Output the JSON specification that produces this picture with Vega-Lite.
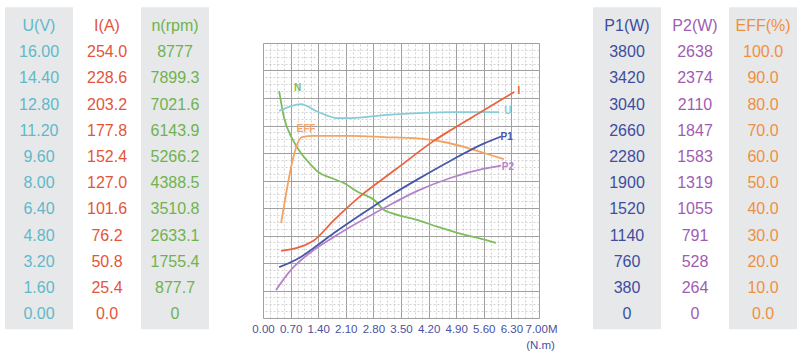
{
  "$schema": "https://vega.github.io/schema/vega-lite/v6.json",
  "padding": {"left": 5, "top": 7, "right": 0, "bottom": 0},
  "background": "white",
  "bounds": "flush",
  "spacing": 54,
  "config": {"view": {"stroke": null}, "font": "Liberation Sans"},
  "resolve": {"scale": {"x": "independent", "y": "independent", "color": "independent"}},
  "datasets": {
    "curves": [
      {"series": "N", "x": 0.41, "pct": 82.5}, {"series": "N", "x": 0.53, "pct": 73.1}, {"series": "N", "x": 0.76, "pct": 64.7},
      {"series": "N", "x": 0.96, "pct": 60.0}, {"series": "N", "x": 1.17, "pct": 56.4}, {"series": "N", "x": 1.40, "pct": 53.1},
      {"series": "N", "x": 1.73, "pct": 50.9}, {"series": "N", "x": 2.05, "pct": 49.1}, {"series": "N", "x": 2.41, "pct": 45.8},
      {"series": "N", "x": 2.82, "pct": 42.9}, {"series": "N", "x": 3.07, "pct": 39.3}, {"series": "N", "x": 3.25, "pct": 38.2},
      {"series": "N", "x": 3.93, "pct": 35.6}, {"series": "N", "x": 4.44, "pct": 33.1}, {"series": "N", "x": 4.95, "pct": 30.9},
      {"series": "N", "x": 5.45, "pct": 29.1}, {"series": "N", "x": 5.91, "pct": 27.3},
      {"series": "U", "x": 0.41, "pct": 75.3}, {"series": "U", "x": 0.96, "pct": 77.8}, {"series": "U", "x": 1.40, "pct": 74.9},
      {"series": "U", "x": 1.90, "pct": 72.7}, {"series": "U", "x": 2.23, "pct": 72.7}, {"series": "U", "x": 3.07, "pct": 73.8},
      {"series": "U", "x": 3.93, "pct": 74.5}, {"series": "U", "x": 4.77, "pct": 74.9}, {"series": "U", "x": 5.99, "pct": 74.9},
      {"series": "EFF", "x": 0.46, "pct": 34.5}, {"series": "EFF", "x": 0.99, "pct": 65.8}, {"series": "EFF", "x": 1.27, "pct": 66.2},
      {"series": "EFF", "x": 2.23, "pct": 66.2}, {"series": "EFF", "x": 3.07, "pct": 65.8}, {"series": "EFF", "x": 3.93, "pct": 65.3},
      {"series": "EFF", "x": 4.59, "pct": 64.0}, {"series": "EFF", "x": 5.20, "pct": 61.8}, {"series": "EFF", "x": 5.61, "pct": 60.0},
      {"series": "EFF", "x": 6.11, "pct": 57.8},
      {"series": "I", "x": 0.46, "pct": 24.4}, {"series": "I", "x": 1.27, "pct": 28.0}, {"series": "I", "x": 1.80, "pct": 35.6},
      {"series": "I", "x": 2.41, "pct": 43.6}, {"series": "I", "x": 3.07, "pct": 50.9}, {"series": "I", "x": 3.50, "pct": 55.5},
      {"series": "I", "x": 4.34, "pct": 64.5}, {"series": "I", "x": 4.77, "pct": 68.4}, {"series": "I", "x": 5.61, "pct": 75.6},
      {"series": "I", "x": 6.37, "pct": 82.2},
      {"series": "P1", "x": 0.41, "pct": 18.5}, {"series": "P1", "x": 0.96, "pct": 22.2}, {"series": "P1", "x": 1.27, "pct": 25.3},
      {"series": "P1", "x": 1.80, "pct": 30.9}, {"series": "P1", "x": 2.66, "pct": 39.3}, {"series": "P1", "x": 3.25, "pct": 44.7},
      {"series": "P1", "x": 3.93, "pct": 50.5}, {"series": "P1", "x": 4.77, "pct": 57.3}, {"series": "P1", "x": 5.61, "pct": 63.5},
      {"series": "P1", "x": 6.04, "pct": 66.0},
      {"series": "P2", "x": 0.33, "pct": 10.2}, {"series": "P2", "x": 0.71, "pct": 17.5}, {"series": "P2", "x": 1.22, "pct": 24.0},
      {"series": "P2", "x": 1.80, "pct": 29.5}, {"series": "P2", "x": 2.92, "pct": 38.8}, {"series": "P2", "x": 3.32, "pct": 41.9},
      {"series": "P2", "x": 3.93, "pct": 46.3}, {"series": "P2", "x": 4.77, "pct": 51.0}, {"series": "P2", "x": 5.61, "pct": 54.3},
      {"series": "P2", "x": 6.04, "pct": 55.4}
    ],
    "labels": [
      {"series": "N", "x": 0.88, "pct": 83.6, "text": "N"},
      {"series": "EFF", "x": 1.09, "pct": 68.7, "text": "EFF"},
      {"series": "I", "x": 6.49, "pct": 82.5, "text": "I"},
      {"series": "U", "x": 6.21, "pct": 75.3, "text": "U"},
      {"series": "P1", "x": 6.18, "pct": 65.8, "text": "P1"},
      {"series": "P2", "x": 6.21, "pct": 54.9, "text": "P2"}
    ],
    "tableL": [
      {"col": "U(V)", "row": 0, "text": "U(V)"}, {"col": "U(V)", "row": 1, "text": "16.00"}, {"col": "U(V)", "row": 2, "text": "14.40"},
      {"col": "U(V)", "row": 3, "text": "12.80"}, {"col": "U(V)", "row": 4, "text": "11.20"}, {"col": "U(V)", "row": 5, "text": "9.60"},
      {"col": "U(V)", "row": 6, "text": "8.00"}, {"col": "U(V)", "row": 7, "text": "6.40"}, {"col": "U(V)", "row": 8, "text": "4.80"},
      {"col": "U(V)", "row": 9, "text": "3.20"}, {"col": "U(V)", "row": 10, "text": "1.60"}, {"col": "U(V)", "row": 11, "text": "0.00"},
      {"col": "I(A)", "row": 0, "text": "I(A)"}, {"col": "I(A)", "row": 1, "text": "254.0"}, {"col": "I(A)", "row": 2, "text": "228.6"},
      {"col": "I(A)", "row": 3, "text": "203.2"}, {"col": "I(A)", "row": 4, "text": "177.8"}, {"col": "I(A)", "row": 5, "text": "152.4"},
      {"col": "I(A)", "row": 6, "text": "127.0"}, {"col": "I(A)", "row": 7, "text": "101.6"}, {"col": "I(A)", "row": 8, "text": "76.2"},
      {"col": "I(A)", "row": 9, "text": "50.8"}, {"col": "I(A)", "row": 10, "text": "25.4"}, {"col": "I(A)", "row": 11, "text": "0.0"},
      {"col": "n(rpm)", "row": 0, "text": "n(rpm)"}, {"col": "n(rpm)", "row": 1, "text": "8777"}, {"col": "n(rpm)", "row": 2, "text": "7899.3"},
      {"col": "n(rpm)", "row": 3, "text": "7021.6"}, {"col": "n(rpm)", "row": 4, "text": "6143.9"}, {"col": "n(rpm)", "row": 5, "text": "5266.2"},
      {"col": "n(rpm)", "row": 6, "text": "4388.5"}, {"col": "n(rpm)", "row": 7, "text": "3510.8"}, {"col": "n(rpm)", "row": 8, "text": "2633.1"},
      {"col": "n(rpm)", "row": 9, "text": "1755.4"}, {"col": "n(rpm)", "row": 10, "text": "877.7"}, {"col": "n(rpm)", "row": 11, "text": "0"}
    ],
    "tableR": [
      {"col": "P1(W)", "row": 0, "text": "P1(W)"}, {"col": "P1(W)", "row": 1, "text": "3800"}, {"col": "P1(W)", "row": 2, "text": "3420"},
      {"col": "P1(W)", "row": 3, "text": "3040"}, {"col": "P1(W)", "row": 4, "text": "2660"}, {"col": "P1(W)", "row": 5, "text": "2280"},
      {"col": "P1(W)", "row": 6, "text": "1900"}, {"col": "P1(W)", "row": 7, "text": "1520"}, {"col": "P1(W)", "row": 8, "text": "1140"},
      {"col": "P1(W)", "row": 9, "text": "760"}, {"col": "P1(W)", "row": 10, "text": "380"}, {"col": "P1(W)", "row": 11, "text": "0"},
      {"col": "P2(W)", "row": 0, "text": "P2(W)"}, {"col": "P2(W)", "row": 1, "text": "2638"}, {"col": "P2(W)", "row": 2, "text": "2374"},
      {"col": "P2(W)", "row": 3, "text": "2110"}, {"col": "P2(W)", "row": 4, "text": "1847"}, {"col": "P2(W)", "row": 5, "text": "1583"},
      {"col": "P2(W)", "row": 6, "text": "1319"}, {"col": "P2(W)", "row": 7, "text": "1055"}, {"col": "P2(W)", "row": 8, "text": "791"},
      {"col": "P2(W)", "row": 9, "text": "528"}, {"col": "P2(W)", "row": 10, "text": "264"}, {"col": "P2(W)", "row": 11, "text": "0"},
      {"col": "EFF(%)", "row": 0, "text": "EFF(%)"}, {"col": "EFF(%)", "row": 1, "text": "100.0"}, {"col": "EFF(%)", "row": 2, "text": "90.0"},
      {"col": "EFF(%)", "row": 3, "text": "80.0"}, {"col": "EFF(%)", "row": 4, "text": "70.0"}, {"col": "EFF(%)", "row": 5, "text": "60.0"},
      {"col": "EFF(%)", "row": 6, "text": "50.0"}, {"col": "EFF(%)", "row": 7, "text": "40.0"}, {"col": "EFF(%)", "row": 8, "text": "30.0"},
      {"col": "EFF(%)", "row": 9, "text": "20.0"}, {"col": "EFF(%)", "row": 10, "text": "10.0"}, {"col": "EFF(%)", "row": 11, "text": "0.0"}
    ]
  },
  "hconcat": [
    {
      "width": 204,
      "height": 275,
      "data": {"name": "tableL"},
      "layer": [
        {
          "transform": [{"filter": "datum.row == 0 && (datum.col == 'U(V)' || datum.col == 'n(rpm)')"}],
          "mark": {"type": "rect", "color": "#e7e8ea"},
          "encoding": {
            "x": {"field": "col", "type": "nominal", "scale": {"domain": ["U(V)", "I(A)", "n(rpm)"], "paddingInner": 0, "paddingOuter": 0}, "axis": null},
            "y": {"datum": -0.72, "type": "quantitative", "scale": {"domain": [0.649, 11.145], "reverse": true, "nice": false, "zero": false}, "axis": null},
            "y2": {"datum": 11.57}
          }
        },
        {
          "mark": {"type": "text", "fontSize": 16, "baseline": "middle", "font": "Liberation Sans"},
          "encoding": {
            "x": {"field": "col", "type": "nominal", "axis": null},
            "y": {"field": "row", "type": "quantitative", "axis": null},
            "text": {"field": "text"},
            "color": {"field": "col", "type": "nominal", "scale": {"domain": ["U(V)", "I(A)", "n(rpm)"], "range": ["#5fb9c9", "#e3553b", "#6fb34f"]}, "legend": null}
          }
        }
      ]
    },
    {
      "width": 276,
      "height": 275,
      "layer": [
        {
          "data": {"name": "curves"},
          "mark": {"type": "line", "strokeWidth": 1.8, "interpolate": "monotone"},
          "encoding": {
            "x": {
              "field": "x", "type": "quantitative",
              "scale": {"domain": [0, 7], "nice": false, "zero": false},
              "axis": {
                "orient": "top", "title": null, "labels": false, "ticks": false, "domain": false,
                "grid": true, "gridColor": "#c6c6c6", "gridDash": [2, 2], "gridWidth": 0.8,
                "values": [0, 0.175, 0.35, 0.525, 0.7, 0.875, 1.05, 1.225, 1.4, 1.575, 1.75, 1.925, 2.1, 2.275, 2.45, 2.625, 2.8, 2.975, 3.15, 3.325, 3.5, 3.675, 3.85, 4.025, 4.2, 4.375, 4.55, 4.725, 4.9, 5.075, 5.25, 5.425, 5.6, 5.775, 5.95, 6.125, 6.3, 6.475, 6.65, 6.825, 7]
              }
            },
            "y": {
              "field": "pct", "type": "quantitative",
              "scale": {"domain": [0, 100], "nice": false, "zero": false},
              "axis": {
                "orient": "right", "title": null, "labels": false, "ticks": false, "domain": false,
                "grid": true, "gridColor": "#c6c6c6", "gridDash": [2, 2], "gridWidth": 0.8,
                "values": [0, 2.5, 5, 7.5, 10, 12.5, 15, 17.5, 20, 22.5, 25, 27.5, 30, 32.5, 35, 37.5, 40, 42.5, 45, 47.5, 50, 52.5, 55, 57.5, 60, 62.5, 65, 67.5, 70, 72.5, 75, 77.5, 80, 82.5, 85, 87.5, 90, 92.5, 95, 97.5, 100]
              }
            },
            "color": {"field": "series", "type": "nominal", "scale": {"domain": ["N", "U", "EFF", "I", "P1", "P2"], "range": ["#7dbd5c", "#86cdd9", "#f4a361", "#e9633f", "#4757aa", "#b583c9"]}, "legend": null}
          }
        },
        {
          "data": {"name": "labels"},
          "mark": {"type": "text", "fontSize": 10, "fontWeight": "bold", "baseline": "middle", "font": "Liberation Sans"},
          "encoding": {
            "x": {
              "field": "x", "type": "quantitative",
              "axis": {
                "orient": "bottom", "grid": true, "gridColor": "#a0a0a0", "gridWidth": 1,
                "ticks": false, "domain": false, "labelFlush": false, "labelOverlap": false,
                "values": [0, 0.7, 1.4, 2.1, 2.8, 3.5, 4.2, 4.9, 5.6, 6.3, 7],
                "labelExpr": "datum.value == 7 ? '7.00M' : format(datum.value, '.2f')",
                "labelOffset": {"condition": {"test": "datum.value == 7", "value": 2}, "value": 0},
                "labelFont": "Liberation Sans", "labelFontSize": 11.5, "labelColor": "#4b4f9f", "labelPadding": 5,
                "title": "(N.m)", "titleX": 277, "titleY": 27, "titleAlign": "center", "titleBaseline": "middle",
                "titleFont": "Liberation Sans", "titleFontSize": 11.5, "titleFontWeight": "normal", "titleColor": "#4b4f9f"
              }
            },
            "y": {
              "field": "pct", "type": "quantitative",
              "axis": {
                "orient": "left", "title": null, "labels": false, "ticks": false, "domain": false,
                "grid": true, "gridColor": "#a0a0a0", "gridWidth": 1,
                "values": [0, 10, 20, 30, 40, 50, 60, 70, 80, 90, 100]
              }
            },
            "text": {"field": "text"},
            "color": {"field": "series", "type": "nominal", "legend": null}
          }
        }
      ],
      "resolve": {"axis": {"x": "independent", "y": "independent"}}
    },
    {
      "width": 204,
      "height": 275,
      "data": {"name": "tableR"},
      "layer": [
        {
          "transform": [{"filter": "datum.row == 0 && (datum.col == 'P1(W)' || datum.col == 'EFF(%)')"}],
          "mark": {"type": "rect", "color": "#e7e8ea"},
          "encoding": {
            "x": {"field": "col", "type": "nominal", "scale": {"domain": ["P1(W)", "P2(W)", "EFF(%)"], "paddingInner": 0, "paddingOuter": 0}, "axis": null},
            "y": {"datum": -0.72, "type": "quantitative", "scale": {"domain": [0.649, 11.145], "reverse": true, "nice": false, "zero": false}, "axis": null},
            "y2": {"datum": 11.57}
          }
        },
        {
          "mark": {"type": "text", "fontSize": 16, "baseline": "middle", "font": "Liberation Sans"},
          "encoding": {
            "x": {"field": "col", "type": "nominal", "axis": null},
            "y": {"field": "row", "type": "quantitative", "axis": null},
            "text": {"field": "text"},
            "color": {"field": "col", "type": "nominal", "scale": {"domain": ["P1(W)", "P2(W)", "EFF(%)"], "range": ["#3d4ea0", "#9f5db2", "#ef903f"]}, "legend": null}
          }
        }
      ]
    }
  ]
}
